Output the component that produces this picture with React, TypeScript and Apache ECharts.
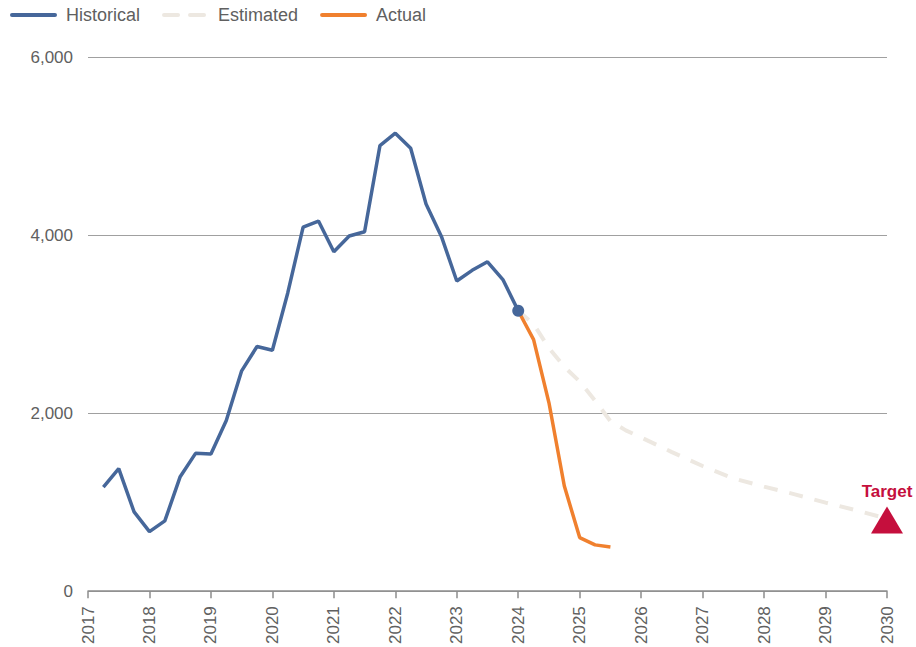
import React, { useEffect, useRef } from "react";
import * as echarts from "echarts";

// Quarterly time points (decimal years)
const histDates = [
  2017.25, 2017.5, 2017.75, 2018.0, 2018.25, 2018.5, 2018.75, 2019.0,
  2019.25, 2019.5, 2019.75, 2020.0, 2020.25, 2020.5, 2020.75, 2021.0,
  2021.25, 2021.5, 2021.75, 2022.0, 2022.25, 2022.5, 2022.75, 2023.0,
  2023.25, 2023.5, 2023.75, 2024.0,
];
const histValues = [
  1170, 1376, 890, 669, 789, 1286, 1548, 1540,
  1918, 2475, 2748, 2706, 3350, 4090, 4157, 3813,
  3989, 4037, 5005, 5144, 4976, 4348, 3985, 3484,
  3604, 3700, 3500, 3150,
];

const actualDates = [2024.0, 2024.25, 2024.5, 2024.75, 2025.0, 2025.25, 2025.5];
const actualValues = [3150, 2826, 2116, 1181, 602, 520, 497];

const estDates = [
  2024.0, 2024.25, 2024.5, 2024.75, 2025.0, 2025.25, 2025.5, 2025.75, 2026.0,
  2026.5, 2027.0, 2027.5, 2028.0, 2028.5, 2029.0, 2029.5, 2030.0,
];
const estValues = [
  3150, 3000, 2730, 2520, 2355, 2140, 1910, 1806, 1727,
  1562, 1406, 1267, 1174, 1088, 995, 908, 815,
];

const targetDate = 2030;
const targetValue = 800;

const yTicks = [0, 2000, 4000, 6000];
const xMin = 2017;
const xMax = 2030;

const BLUE = "#46679A";
const ORANGE = "#F0802E";
const BEIGE = "#EDE8E1";
const CRIMSON = "#C50F3D";
const TEXT = "#606060";

const pairs = (xs: number[], ys: number[]) => xs.map((x, i) => [x, ys[i]]);

export default function App() {
  const ref = useRef<HTMLDivElement>(null);
  useEffect(() => {
    if (!ref.current) return;
    const chart = echarts.init(ref.current, undefined, { renderer: "svg" });
    chart.setOption({
      animation: false,
      textStyle: { fontFamily: "Liberation Sans, Arial, sans-serif" },
      legend: {
        data: ["Historical", "Estimated", "Actual"],
        left: 5,
        top: 1,
        itemWidth: 43,
        itemHeight: 4,
        itemGap: 22,
        itemStyle: { opacity: 0 },
        lineStyle: { width: 4, cap: "round" },
        textStyle: { fontSize: 18, color: TEXT, padding: [0, 0, 0, 6] },
      },
      grid: { left: 88, right: 29, top: 57, bottom: 55, containLabel: false },
      xAxis: {
        type: "value",
        min: xMin,
        max: xMax,
        interval: 1,
        axisLine: { show: true, lineStyle: { color: "#8C8C8C", width: 1.5 } },
        axisTick: { show: true, length: 7, lineStyle: { color: "#8C8C8C", width: 1.5 } },
        splitLine: { show: false },
        axisLabel: {
          rotate: 90,
          margin: 15,
          fontSize: 17,
          color: TEXT,
          formatter: (v: number) => String(v),
        },
      },
      yAxis: {
        type: "value",
        min: yTicks[0],
        max: yTicks[yTicks.length - 1],
        interval: 2000,
        axisLine: { show: false },
        axisTick: { show: false },
        splitLine: { show: true, lineStyle: { color: "#A0A0A0", width: 1 } },
        axisLabel: {
          fontSize: 17,
          color: TEXT,
          margin: 15,
          formatter: (v: number) => v.toLocaleString("en-US"),
        },
      },
      series: [
        {
          name: "Estimated",
          type: "line",
          data: pairs(estDates, estValues),
          symbol: "none",
          lineStyle: { color: BEIGE, width: 4, type: [14, 12] },
          itemStyle: { color: BEIGE },
          z: 2,
        },
        {
          name: "Actual",
          type: "line",
          data: pairs(actualDates, actualValues),
          symbol: "none",
          lineStyle: { color: ORANGE, width: 3.5 },
          itemStyle: { color: ORANGE },
          z: 3,
        },
        {
          name: "Historical",
          type: "line",
          data: pairs(histDates, histValues),
          symbol: "none",
          lineStyle: { color: BLUE, width: 3.5 },
          itemStyle: { color: BLUE },
          z: 4,
          markPoint: {
            symbol: "circle",
            symbolSize: 12,
            itemStyle: { color: BLUE },
            label: { show: false },
            data: [
              {
                coord: [
                  histDates[histDates.length - 1],
                  histValues[histValues.length - 1],
                ],
              },
            ],
          },
        },
        {
          name: "Target",
          type: "scatter",
          data: [[targetDate, targetValue]],
          symbol: "triangle",
          symbolSize: [32, 27],
          itemStyle: { color: CRIMSON, opacity: 1 },
          clip: false,
          z: 5,
          label: {
            show: true,
            position: "top",
            distance: 6,
            formatter: "Target",
            color: CRIMSON,
            fontSize: 17,
            fontWeight: "bold",
            overflow: "none",
          },
        },
      ],
    });
    return () => chart.dispose();
  }, []);
  return (
    <div
      ref={ref}
      style={{ position: "absolute", left: 0, top: 0, width: 916, height: 647 }}
    />
  );
}
